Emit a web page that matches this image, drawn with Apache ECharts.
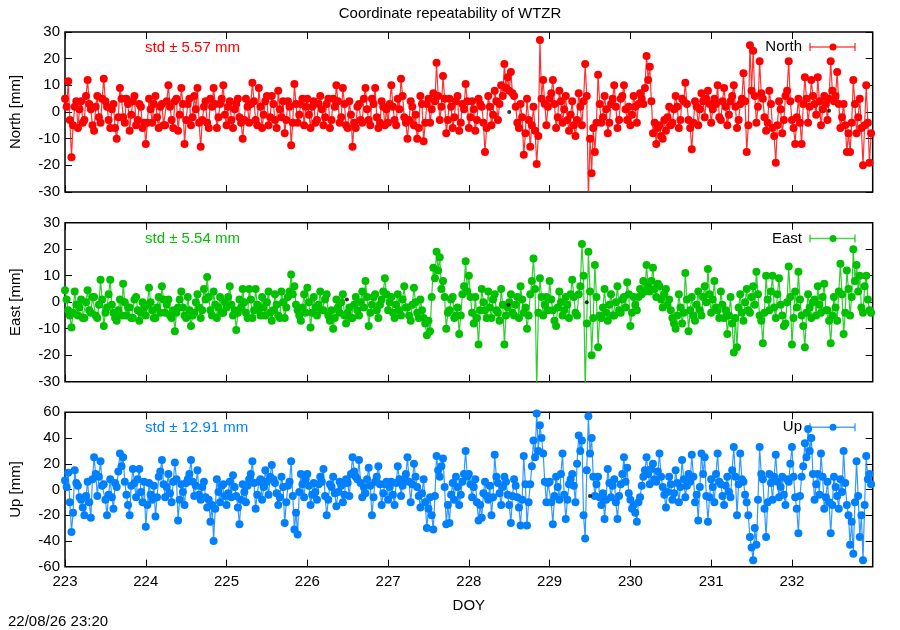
<!DOCTYPE html>
<html>
<head>
<meta charset="utf-8">
<script src="https://cdn.jsdelivr.net/npm/echarts@6/dist/echarts.min.js"></script>
<style>
  html, body { margin: 0; padding: 0; background: #fff; }
  #chart { width: 900px; height: 630px; }
</style>
</head>
<body>
<div id="chart"></div>
<script>
// epochs: day of year, one sample every 0.02 day from 223.00
var doyStart = 223;
var doyStep = 0.02;

// North residuals [mm], one row per day 223 .. 232
var northVals = [
  5, 2, 11.5, -3, -17, -5, 2, 4, -6, 1, 4, -4, -3, 6, 12, 3, 1, -5, -7, 2, 6, -2, -4, 5, 12.5, 4, 2, -3, -6, 1, 3, -6, -10, -2, 9, 5, -2, -4, 5, 3, -7, -1, 4, 6, -5, -3, 3, 2, -6, -4,
  -12, -4, 5, 1, -4, 3, 6, -2, -6, 2, 3, -5, -5, 4, 10, 2, -3, -6, 4, 5, -7, -1, 9, 3, -12, -3, 3, 5, -5, -2, 6, 1, 9, -4, -13, -3, 2, 4, -4, -6, 5, 2, 9, 3, -6, -2, 3, 5, 10, -1,
  -5, 2, 4, -3, -6, 1, 3, 5, -2, -4, -10, -3, 5, 2, -4, 3, 11, 4, -3, -5, 9, 2, -6, -1, 4, 6, -5, -2, 6, 3, -3, -6, 8, 1, -2, 4, -8, -3, 4, 2, -12.5, -4, 10.5, 3, -4, -1, 3, 5, -5, 2,
  5, -1, -6, 2, 4, -4, -3, 3, 6, 1, -5, -2, 3, 5, -6, -3, 5, 2, 10, 4, -4, -2, 9, 3, -5, -6, 4, -1, -13, -4, -6, 2, 3, -3, -4, 5, 9, 1, -3, -5, 5, 3, 9, -2, -6, -4, 4, 2, -5, 1,
  -4, 3, 10, 2, -3, -5, 5, 1, 12.5, 6, -2, -4, -10, -3, 4, 2, -5, -1, -10, -6, 6, 3, -11, -4, 3, 5, -4, 1, 7, 4, 18.5, 6, -3, 2, 13.5, 5, -8, -3, 5, 2, -6, -2, 4, 6, -7, -4, 3, 1, 10.5, 4,
  -6, -2, 4, 1, -7, -3, 5, 3, 2, -4, -15, -6, 6, 2, -5, -1, 8, 4, -3, 3, 10, 6, 18, 9, 13, 8, 15, 7, 6, 2, -4, -6, 3, -2, -16, -8, 5, -3, -13, -5, 2, -7, -19.5, -9, 27, 5, 12, 3, -5, 2,
  5, 7, 12, 3, -6, -2, 8, 4, -4, 1, 6, -3, -7, -1, 4, -5, -9, -3, 7, 2, -5, 4, 18, 6, -33, -10, -23, -6, -15, -4, 14, 3, -4, -2, 6, 1, -8, -4, 3, 5, 10, 2, -6, -3, 5, 6, 10, 1, -3, 2,
  -5, -1, 6, 2, -4, 3, 7, 5, 3, 9, 21, 12, 17, 4, -8, -4, -12, -6, -5, -9, -10, -3, -7, -2, 2, -5, -4, 1, 6, 2, -6, -3, 5, 4, 11, 3, -3, -6, -14, -4, 4, 2, -5, 1, 7, 4, -2, 5, 8, 3,
  -4, 1, 5, 3, 10, -2, -3, 4, 9, 2, -5, -1, 4, 6, 10, 2, -6, -3, 3, 5, 14.5, 4, -15, -5, 25, 8, 23, 6, -4, 2, 19, 7, 5, -2, -7, -4, 8, 3, -6, -9, -19, -5, 4, 1, -8, -3, 6, 8, 19, 4,
  -3, -6, -12, -2, 5, -4, -12, 3, 13, 5, -4, 2, 12, 6, 3, -1, 13, 4, -5, 1, 6, 3, -3, 5, 19, 8, 4, 6, 15, 3, -6, -2, 3, -5, -15, -8, -15, -4, 12, 3, -8, -2, 5, -6, -20, -5, 10, -4, -19, -8
];

// East residuals [mm]
var eastVals = [
  4.5, 1, -3, -5, -9.5, -4, 4, -1, -5, -2, 1, -6, -6, 0, 4.5, -3, -4, 2, 2, -5, -6, -1, 8.5, 1, -9, -4, -2, 3, 8.5, -1, -4, -6, -7, -3, 1, -5, 7, 0, -5, -2, -2, -6, -6, 1, 2, -3, -7, -4, 0, -2,
  -5, -1, 5.5, 0, -3, -6, -6, -2, 2, -4, 6, 1, -4, -1, 1, -5, -6, -3, -11, -4, -2, 1, 4, -2, -5, -6, 2, -3, -9, -5, -4, 0, 3, -2, -6, -3, 5, 1, 9.5, 2, -3, -5, 4, -1, -6, -2, 2, -4, -4, 0,
  -2, 2, 6, -1, -5, -3, -10.5, -4, 1, -2, 5, 0, -4, -6, 5, 1, -6, -3, 5, -1, -3, -5, 2, -2, -5, 0, 4, -4, -7, -3, 3, -1, -5, -6, 4, 0, -6, -2, 2, 4, 10.5, 3, 6, -1, -3, -5, -7, -2, 3, -4,
  5.5, 0, -9.5, -4, 2, -2, -5, -1, 4, -3, -3, 1, 3, -5, -7, -3, -10, -6, 1, -2, -4, 0, 3, -5, -8, -4, -2, -6, -6, -1, 2, -3, -5, 0, 4, -2, 8, 2, -9, -4, -1, 2, 3, -3, -6, -1, 1, 4, 9, 3,
  -3, 0, 2, -4, -6, -1, 3, -3, -5, 1, 6, -2, -2, -5, -7, -1, 5.5, 0, -4, -6, 1, -3, -6, -8, -12.5, -7, -11, 2, 13, 9, 19, 12, 17, 5, 8, 2, -10, -4, -3, 1, 2, -6, -5, -2, -12, -5, 3, 6, 15.5, 4,
  10, 2, -4, -8, 2, -6, -16, -3, 5, 0, -3, -6, 4, -2, -6, 1, 3, -3, -4, -7, 5, -1, -16, -5, -2, 0, 3, -4, -5, -1, 2, -6, 6, 1, -4, -2, -10, -5, 3, 8, 16.5, 5, -33, -4, 9, 2, -5, -1, 2, -3,
  8, 1, -3, -7, -9, -2, 4, 0, -5, -3, 2, -1, -6, 3, 8.5, 2, -4, -5, 3, 6, 22, 10, -33, -8, 19, 4, -20, -6, 14, 2, -17, -5, -6, -2, 5, -4, -7, -1, 3, -5, -5, 0, 6, -3, -4, 1, 2, -2, 7.5, 3,
  -9, -4, 2, -1, -3, 2, 5, 3, 8, 4, 14, 6, 4, 8, 13, 5, 2, 7, 6, 1, -2, 3, 5, -1, 1, -3, -6, -8, -10, -5, 3, -2, -8, -4, 11, 1, -11, -3, 2, -5, -7, -1, 4, -3, -5, 2, 6, 0, 12.5, 3,
  -4, 1, 8, -2, -3, -6, 4, -1, -6, -3, -12, -5, 2, -8, -19, -6, -17, -2, 3, -4, -7, 0, 5, -3, -4, 2, 6, -1, 11.5, 3, -5, -7, -15.5, -4, 10, 1, -3, 4, 10, -2, -6, 3, 9, -1, -5, -9, -8, 0, 13.5, 2,
  -16, -6, 4, -2, 11.5, 1, -5, -9, -17, -4, 3, -2, -6, 0, 1, -5, 6, -1, -4, 2, 7, -3, -3, -7, -15.5, -5, 2, -2, -7, 4, 14.5, 3, -12, -4, 12, 5, -5, 2, 20, 8, 14, 4, 10, -2, -4, 6, 10, 1, -3, -4
];

// Up residuals [mm]
var upVals = [
  7, 2, 13, -10, -33, -18, 15, 5, 3, -6, -8, -14, -20, -5, 6, -10, -22, 8, 25, 12, -5, 10, 22, 3, 4, -8, -20, -4, 8, -6, -15, 5, 2, 14, 28, 18, 25, 6, -4, -12, -20, 3, 16, 5, -6, 8, 16, -2, -10, 6,
  -29, -12, 5, -4, -8, 3, -21, -6, 10, 14, 23, 4, -6, 2, 12, -3, -10, 6, 21, 8, -24, -8, 4, -2, -12, 5, 8, 12, 23, 6, -5, 3, 15, -4, -8, 2, 6, -6, -14, -8, -25, -12, -40, -15, 8, -2, -10, 3, 4, -5,
  -12, -3, 6, -6, 11, 2, -5, -14, -27, -8, 4, -2, -10, 3, 8, 12, 22, 5, -15, -4, 6, 8, -8, 2, 15, 6, -4, 10, 19, 8, 5, -3, -12, -6, 10, 2, -26, -10, 3, 6, 22, -5, -31, -18, -35, -2, 12, 4, -6, 8,
  12, 3, -12, -4, 5, -2, -8, 4, 10, 6, 16, -5, -20, -8, 4, 2, 10, -3, -13, -2, 6, 3, -10, -4, 8, 5, -5, 12, 25, 14, 10, 8, 23, 5, -6, 2, -3, 8, 17, 3, -20, -6, 6, 10, 18, 4, -12, -3, 4, 6,
  -8, 2, 6, -4, -12, 5, 18, 8, -5, 3, 8, 12, 25, 6, -10, 4, 20, 10, 2, -5, -14, -3, 8, -10, -30, -15, -6, -20, -31, -5, 26, 15, 10, 18, 24, 2, -27, -12, -26, -4, 5, -8, 10, 2, -12, -4, 6, 12, 30, 10,
  12, 4, -6, 2, 8, -10, -24, -12, -22, -3, 6, -5, -8, 3, -20, -6, 27, 10, 5, -3, -12, 2, 10, 6, -4, -12, -26, -5, 8, 3, -6, -14, -28, -8, 26, 4, -28, -10, 4, 18, 38, 25, 59, 30, 50, 40, 28, 6, -10, 5,
  6, -10, -27, -5, 10, 2, -8, 12, 28, -4, -23, -8, 4, 8, 12, 3, -10, 20, 42, 30, 38, -20, -38, 15, 57, 28, 40, 10, -5, 4, 10, -6, -12, -3, -23, -8, 16, 5, -6, 3, 8, -10, -23, -5, 4, 12, 25, 6, 17, -3,
  -8, -15, -12, -18, -25, -10, -6, 3, 10, 15, 25, 12, 4, 16, 20, 8, 6, 14, 28, 10, 2, -4, -14, -2, 10, 4, -8, -3, 15, 5, -10, 2, 23, 8, -6, 3, 12, 6, 27, 10, -10, -4, -24, 2, 28, 12, 25, -5, -25, -6,
  8, 2, -10, 12, 28, 6, 4, -5, -12, 3, 10, -2, -6, 15, 33, 10, -20, 4, 28, 8, 6, -4, -10, -20, -37, -45, -55, -30, -43, -8, 33, 12, 8, -15, -37, -10, 12, 5, -8, 10, 27, 6, -6, 2, 10, -4, -12, 8, 6, 20,
  33, 10, -6, -15, -34, -5, 10, 18, 36, 25, 47, 30, 40, 12, -8, 4, 12, -4, 28, 10, -15, -6, 6, -10, -34, -12, 10, 2, -5, -15, 8, -2, 30, 5, -12, -20, -43, -25, -50, -10, 22, -5, -37, -20, -55, -12, 26, 8, 12, 4
];

// a few black reference points near zero
var northRef = [[228.5, 0], [232.46, 0.5]];
var eastRef = [[226.49, 1], [228.49, -1], [229.46, 0]];
var upRef = [[229.5, -5]];

var stdLabels = ['std \u00b1 5.57 mm', 'std \u00b1 5.54 mm', 'std \u00b1 12.91 mm'];
var names = ['North', 'East', 'Up'];
var colors = ['#ff0000', '#00c000', '#0080ff'];

var FONT = '"Liberation Sans", Arial, sans-serif';

function pairs(vals) {
    return vals.map(function (v, i) {
        return [+(doyStart + i * doyStep).toFixed(2), v];
    });
}

var chart = echarts.init(document.getElementById('chart'));

var grids = [
    { left: 64.5, right: 27.3, top: 32, height: 160 },
    { left: 64.5, right: 27.3, top: 222.7, height: 159 },
    { left: 64.5, right: 27.3, top: 412.3, height: 154.4 }
].map(function (g) {
    g.show = true;
    g.borderColor = '#000';
    g.borderWidth = 1.5;
    g.backgroundColor = 'transparent';
    return g;
});

var xAxes = [];
var yAxes = [];
var yRanges = [[-30, 30, 10], [-30, 30, 10], [-60, 60, 20]];
var tick = { show: true, inside: true, length: 7, lineStyle: { color: '#000', width: 1 } };

[0, 1, 2].forEach(function (i) {
    xAxes.push({
        gridIndex: i, type: 'value', min: 223, max: 233, interval: 1,
        position: 'bottom',
        name: i === 2 ? 'DOY' : '', nameLocation: 'middle', nameGap: 32,
        nameTextStyle: { fontSize: 15, color: '#000', fontFamily: FONT },
        axisLine: { show: false, onZero: false },
        axisTick: tick,
        axisLabel: { show: i === 2, showMaxLabel: false, fontSize: 15, color: '#000', fontFamily: FONT, margin: 8 },
        splitLine: { show: false }
    });
});
[0, 1, 2].forEach(function (i) {
    xAxes.push({
        gridIndex: i, type: 'value', min: 223, max: 233, interval: 1,
        position: 'top',
        axisLine: { show: false, onZero: false },
        axisTick: tick,
        axisLabel: { show: false },
        splitLine: { show: false }
    });
});
[0, 1, 2].forEach(function (i) {
    yAxes.push({
        gridIndex: i, type: 'value', min: yRanges[i][0], max: yRanges[i][1], interval: yRanges[i][2],
        position: 'left',
        name: names[i] + ' [mm]', nameLocation: 'middle', nameRotate: 90, nameGap: 42,
        nameTextStyle: { fontSize: 15, color: '#000', fontFamily: FONT },
        axisLine: { show: false, onZero: false },
        axisTick: tick,
        axisLabel: { fontSize: 15, color: '#000', fontFamily: FONT, margin: 5 },
        splitLine: { show: false }
    });
});
[0, 1, 2].forEach(function (i) {
    yAxes.push({
        gridIndex: i, type: 'value', min: yRanges[i][0], max: yRanges[i][1], interval: yRanges[i][2],
        position: 'right',
        axisLine: { show: false, onZero: false },
        axisTick: tick,
        axisLabel: { show: false },
        splitLine: { show: false }
    });
});

var allVals = [northVals, eastVals, upVals];
var allRefs = [northRef, eastRef, upRef];
var series = [];
[0, 1, 2].forEach(function (i) {
    series.push({
        name: names[i],
        type: 'line',
        xAxisIndex: i, yAxisIndex: i,
        data: pairs(allVals[i]),
        symbol: 'circle', symbolSize: 8, showSymbol: true, showAllSymbol: true,
        itemStyle: { color: colors[i] },
        lineStyle: { color: colors[i], width: 1.2, opacity: 0.8 },
        clip: true,
        z: 2
    });
    series.push({
        name: names[i] + ' ref',
        type: 'scatter',
        xAxisIndex: i, yAxisIndex: i,
        data: allRefs[i],
        symbol: 'circle', symbolSize: 4,
        itemStyle: { color: '#000' },
        z: 3
    });
});

// legend entries and std labels
var legendY = [47, 238.5, 427.3];
var stdY = [48, 239, 428];
var graphic = [];
[0, 1, 2].forEach(function (i) {
    graphic.push({
        type: 'text', x: 145, y: stdY[i], z: 10,
        style: { text: stdLabels[i], fill: colors[i], font: '15px ' + FONT, textVerticalAlign: 'middle' }
    });
    graphic.push({
        type: 'text', x: 802, y: legendY[i], z: 10,
        style: { text: names[i], fill: '#000', font: '15px ' + FONT, textAlign: 'right', textVerticalAlign: 'middle' }
    });
    graphic.push({
        type: 'line', z: 10,
        shape: { x1: 810, y1: legendY[i], x2: 855, y2: legendY[i] },
        style: { stroke: colors[i], lineWidth: 1.5, opacity: 0.7 }
    });
    graphic.push({
        type: 'line', z: 10,
        shape: { x1: 810, y1: legendY[i] - 4, x2: 810, y2: legendY[i] + 4 },
        style: { stroke: colors[i], lineWidth: 1.5, opacity: 0.7 }
    });
    graphic.push({
        type: 'line', z: 10,
        shape: { x1: 855, y1: legendY[i] - 4, x2: 855, y2: legendY[i] + 4 },
        style: { stroke: colors[i], lineWidth: 1.5, opacity: 0.7 }
    });
    graphic.push({
        type: 'circle', z: 11,
        shape: { cx: 833, cy: legendY[i], r: 3.5 },
        style: { fill: colors[i] }
    });
});
graphic.push({
    type: 'text', x: 8, y: 622, z: 10,
    style: { text: '22/08/26 23:20', fill: '#000', font: '15px ' + FONT, textVerticalAlign: 'middle' }
});

chart.setOption({
    animation: false,
    backgroundColor: '#fff',
    title: {
        text: 'Coordinate repeatability of WTZR',
        left: 'center', top: 1,
        textStyle: { fontSize: 15, fontWeight: 'normal', color: '#000', fontFamily: FONT }
    },
    grid: grids,
    xAxis: xAxes,
    yAxis: yAxes,
    series: series,
    graphic: graphic
});
</script>
</body>
</html>
